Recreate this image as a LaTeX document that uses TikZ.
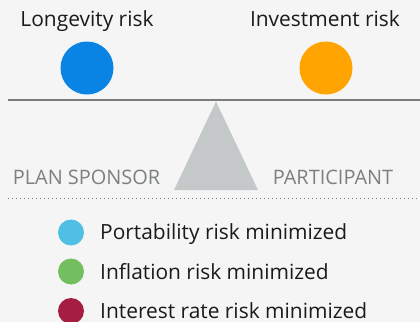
\documentclass[tikz,border=0pt]{standalone}
\usepackage{fontspec}
\setmainfont{Open Sans}
\definecolor{bg}{HTML}{F4F5F4}
\definecolor{txt}{HTML}{1A1A1A}
\definecolor{lbl}{HTML}{7D8083}
\definecolor{beam}{HTML}{7A7D80}
\definecolor{fulcrum}{HTML}{C5C8C9}
\definecolor{cblue}{HTML}{0A84E4}
\definecolor{corange}{HTML}{FFA400}
\definecolor{clight}{HTML}{4FC0E3}
\definecolor{cgreen}{HTML}{73BF5F}
\definecolor{cred}{HTML}{A51D40}
\tikzset{
  toplabel/.style={text=txt, font=\fontsize{21}{24}\selectfont, inner sep=0pt, anchor=base},
  side/.style={text=lbl, font=\fontsize{20}{24}\selectfont, inner sep=0pt, anchor=base},
  legtext/.style={text=txt, font=\fontsize{21}{24}\selectfont, inner sep=0pt, anchor=base west},
  bigdot/.style={circle, minimum size=53bp, inner sep=0pt},
  smalldot/.style={circle, minimum size=26bp, inner sep=0pt},
}
\begin{document}
\begin{tikzpicture}[x=1bp,y=-1bp]
\fill[bg] (0,0) rectangle (420,322);
\useasboundingbox (0,0) rectangle (420,322);
\node[toplabel] (lt) at (87,26) {Longevity risk};
\node[toplabel] (it) at (325,26) {Investment risk};
\node[bigdot, fill=cblue] (ld) at (87,68) {};
\node[bigdot, fill=corange] (id) at (326,68) {};
\coordinate (bl) at (8,100);
\coordinate (br) at (420,100);
\draw[beam, line width=2bp] (bl) -- (br);
\fill[fulcrum] (216,101.5) -- (258,190) -- (174,190) -- cycle;
\node[side] (ps) at (86.5,184) {PLAN SPONSOR};
\node[side] (pa) at (333,184) {PARTICIPANT};
\coordinate (dl) at (8,198.5);
\coordinate (dr) at (420,198.5);
\draw[lbl, line width=1.3bp, dash pattern=on 1.3bp off 2.7bp] (dl) -- (dr);
\node[smalldot, fill=clight] (d1) at (71,232.5) {};
\node[smalldot, fill=cgreen] (d2) at (71,271.5) {};
\node[smalldot, fill=cred] (d3) at (71,311) {};
\node[legtext] (t1) at (100,239.3) {Portability risk minimized};
\node[legtext] (t2) at (100,279) {Inflation risk minimized};
\node[legtext] (t3) at (100,318) {Interest rate risk minimized};
\end{tikzpicture}
\end{document}
